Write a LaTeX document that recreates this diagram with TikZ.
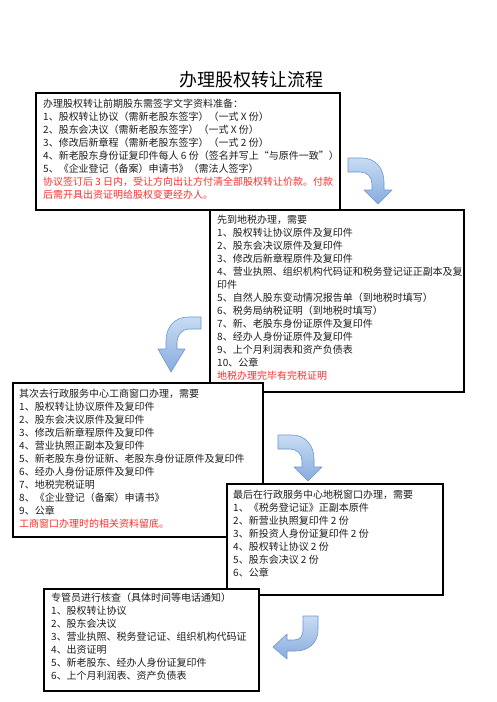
\documentclass[tikz,border=0pt]{standalone}
\usepackage{fontspec}
\setmainfont{Noto Sans CJK SC}
\usetikzlibrary{calc}
\definecolor{redtext}{RGB}{255,45,45}
\definecolor{bodytext}{RGB}{30,30,30}
\definecolor{arrowtop}{RGB}{200,220,243}
\definecolor{arrowbot}{RGB}{135,172,222}
\definecolor{arrowline}{RGB}{110,150,205}
\tikzset{
  box/.style={draw=black, line width=1.1pt, fill=white, inner sep=0pt, outer sep=0pt, anchor=north west},
  txt/.style={anchor=north west, align=left, inner sep=0pt, text=bodytext, font=\fontsize{10}{13}\selectfont},
  blockarrow/.style={draw=arrowline, line width=0.6pt, top color=arrowtop, bottom color=arrowbot, line join=round},
  titlestyle/.style={inner sep=0pt, font=\fontsize{18}{20}\selectfont, text=black}
}
\begin{document}
\begin{tikzpicture}[x=1pt, y=-1pt]
\useasboundingbox (0,0) rectangle (496,702);
\fill[white] (0,0) rectangle (496,702);

\node[titlestyle] (title) at (251,80) {办理股权转让流程};

% Box 1
\node[box, minimum width=304pt, minimum height=117pt] (b1) at (36,93) {};
\node[txt] (t1) at (43,98.5) {办理股权转让前期股东需签字文字资料准备：\\
1、股权转让协议（需新老股东签字）（一式 X 份）\\
2、股东会决议（需新老股东签字）（一式 X 份）\\
3、修改后新章程（需新老股东签字）（一式 2 份）\\
4、新老股东身份证复印件每人 6 份（签名并写上“与原件一致”）\\
5、《企业登记（备案）申请书》（需法人签字）\\
\textcolor{redtext}{协议签订后 3 日内，受让方向出让方付清全部股权转让价款。付款}\\
\textcolor{redtext}{后需开具出资证明给股权变更经办人。}};

% Box 2
\node[box, minimum width=254pt, minimum height=182pt] (b2) at (210,210) {};
\node[txt] (t2) at (217,214.5) {先到地税办理，需要\\
1、股权转让协议原件及复印件\\
2、股东会决议原件及复印件\\
3、修改后新章程原件及复印件\\
4、营业执照、组织机构代码证和税务登记证正副本及复\\
印件\\
5、自然人股东变动情况报告单（到地税时填写）\\
6、税务局纳税证明（到地税时填写）\\
7、新、老股东身份证原件及复印件\\
8、经办人身份证原件及复印件\\
9、上个月利润表和资产负债表\\
10、公章\\
\textcolor{redtext}{地税办理完毕有完税证明}};

% Box 3
\node[box, minimum width=250pt, minimum height=154pt] (b3) at (13,383) {};
\node[txt] (t3) at (19,388.5) {其次去行政服务中心工商窗口办理，需要\\
1、股权转让协议原件及复印件\\
2、股东会决议原件及复印件\\
3、修改后新章程原件及复印件\\
4、营业执照正副本及复印件\\
5、新老股东身份证新、老股东身份证原件及复印件\\
6、经办人身份证原件及复印件\\
7、地税完税证明\\
8、《企业登记（备案）申请书》\\
9、公章\\
\textcolor{redtext}{工商窗口办理时的相关资料留底。}};

% Box 4
\node[box, minimum width=216pt, minimum height=111pt] (b4) at (227,484) {};
\node[txt] (t4) at (233,489.5) {最后在行政服务中心地税窗口办理，需要\\
1、《税务登记证》正副本原件\\
2、新营业执照复印件 2 份\\
3、新投资人身份证复印件 2 份\\
4、股权转让协议 2 份\\
5、股东会决议 2 份\\
6、公章};

% Box 5
\node[box, minimum width=215pt, minimum height=102pt] (b5) at (44,589) {};
\node[txt] (t5) at (51,592.5) {专管员进行核查（具体时间等电话通知）\\
1、股权转让协议\\
2、股东会决议\\
3、营业执照、税务登记证、组织机构代码证\\
4、出资证明\\
5、新老股东、经办人身份证复印件\\
6、上个月利润表、资产负债表};

% Block arrows
\path[blockarrow] (348,158) -- (362,158) .. controls (375,158) and (384,168) .. (384,182) -- (384,190) -- (392,190) -- (378,204) -- (364,190) -- (372,190) -- (372,184) .. controls (372,177) and (367,172) .. (360,172) -- (348,172) -- cycle;

\path[blockarrow] (201,317) -- (188,317) .. controls (175,317) and (166,327) .. (166,341) -- (166,349) -- (158,349) -- (171,372) -- (185,349) -- (177,349) -- (177,343) .. controls (177,335) and (182,329) .. (189,329) -- (201,329) -- cycle;

\path[blockarrow] (278,435) -- (292,435) .. controls (305,435) and (314,445) .. (314,459) -- (314,467) -- (322,467) -- (308,481) -- (294,467) -- (302,467) -- (302,461) .. controls (302,454) and (297,449) .. (290,449) -- (278,449) -- cycle;

\path[blockarrow] (303,616) -- (318,616) -- (318,630) .. controls (318,643) and (308,651) .. (296,651) -- (287,651) -- (287,659) -- (273,647) -- (287,634) -- (287,640) -- (294,640) .. controls (300,640) and (303,636) .. (303,630) -- cycle;
\end{tikzpicture}
\end{document}
